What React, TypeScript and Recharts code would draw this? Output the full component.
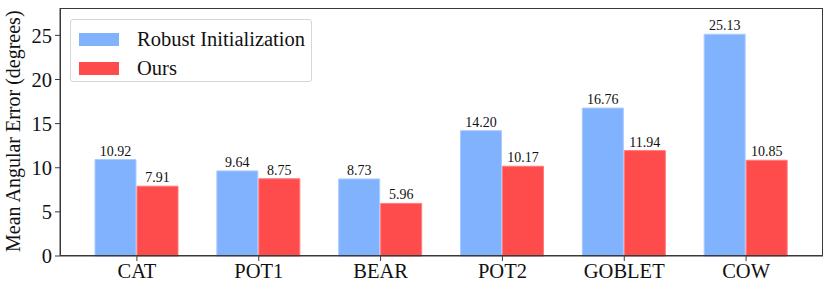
import React from "react";
import { BarChart, Bar, XAxis, YAxis, LabelList } from "recharts";

const categories = ["CAT", "POT1", "BEAR", "POT2", "GOBLET", "COW"];
const robustInit = [10.92, 9.64, 8.73, 14.2, 16.76, 25.13];
const ours = [7.91, 8.75, 5.96, 10.17, 11.94, 10.85];
const yTicks = [0, 5, 10, 15, 20, 25];
const seriesNames = ["Robust Initialization", "Ours"];

const BLUE = "#80b2fe";
const RED = "#fe4c4c";
const AXIS = "#3a3a3a";
const FONT = "'Liberation Serif', 'DejaVu Serif', serif";

const data = categories.map((name, i) => ({
  name,
  robust: robustInit[i],
  ours: ours[i],
}));

function LegendBox() {
  const colors = [BLUE, RED];
  return (
    <div
      style={{
        position: "absolute",
        left: 70,
        top: 19,
        width: 242,
        height: 63,
        border: "1px solid #d6d6d6",
        borderRadius: 3,
        background: "white",
        padding: "5px 0 0 8px",
        fontFamily: FONT,
        fontSize: 20.5,
        color: "#111",
        boxSizing: "border-box",
        whiteSpace: "nowrap",
      }}
    >
      {seriesNames.map((label, i) => (
        <div key={label} style={{ display: "flex", alignItems: "center", height: 29 }}>
          <div style={{ width: 40, height: 13, background: colors[i], marginRight: 18 }} />
          <span>{label}</span>
        </div>
      ))}
    </div>
  );
}

export default function App() {
  return (
    <div style={{ position: "absolute", left: 0, top: 0, width: 831, height: 291, background: "white" }}>
      <BarChart
        width={831}
        height={291}
        data={data}
        margin={{ top: 8, right: 8, left: 10, bottom: 5 }}
        barGap={1}
        barSize={41}
      >
        <XAxis
          dataKey="name"
          padding={{ left: 16, right: 16 }}
          height={30}
          stroke={AXIS}
          tickSize={5}
          tick={{ fill: "#111", fontSize: 20.5, fontFamily: FONT }}
          tickMargin={2}
        />
        <YAxis
          domain={[0, 28.1]}
          ticks={yTicks}
          width={50}
          stroke={AXIS}
          tickSize={5}
          tick={{ fill: "#111", fontSize: 20.5, fontFamily: FONT }}
          tickMargin={3}
          label={{
            value: "Mean Angular Error (degrees)",
            angle: -90,
            position: "insideLeft",
            dx: -2,
            dy: 120,
            style: { fill: "#111", fontSize: 20, fontFamily: FONT },
          }}
        />
        <Bar dataKey="robust" name={seriesNames[0]} fill={BLUE} stroke="#a9cbff" strokeWidth={1} isAnimationActive={false}>
          <LabelList
            dataKey="robust"
            position="top"
            offset={4}
            formatter={(v: number) => v.toFixed(2)}
            style={{ fill: "#111", fontSize: 14, fontFamily: FONT }}
          />
        </Bar>
        <Bar dataKey="ours" name={seriesNames[1]} fill={RED} stroke="#ff7a7a" strokeWidth={1} isAnimationActive={false}>
          <LabelList
            dataKey="ours"
            position="top"
            offset={4}
            formatter={(v: number) => v.toFixed(2)}
            style={{ fill: "#111", fontSize: 14, fontFamily: FONT }}
          />
        </Bar>
      </BarChart>
      {/* frame around the plot area, like matplotlib spines */}
      <div
        style={{
          position: "absolute",
          left: 60,
          top: 8,
          width: 763,
          height: 248,
          border: `1px solid ${AXIS}`,
          boxSizing: "border-box",
          pointerEvents: "none",
        }}
      />
      <LegendBox />
    </div>
  );
}
